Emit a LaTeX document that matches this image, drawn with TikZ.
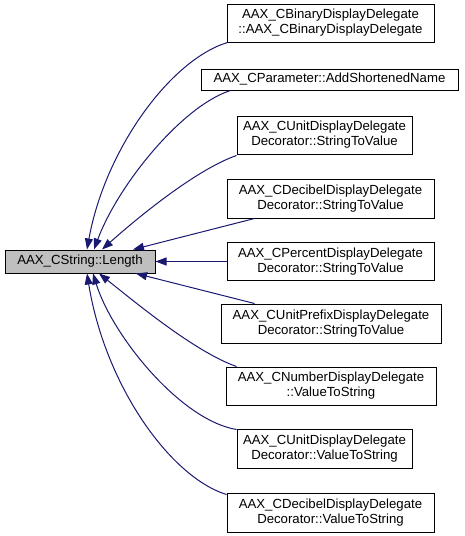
\documentclass[tikz,border=0pt]{standalone}
\usepackage{fontspec}
\setmainfont{Liberation Sans}
\usetikzlibrary{arrows.meta}
\definecolor{edgeblue}{HTML}{191970}
\definecolor{hlgrey}{HTML}{BFBFBF}
\begin{document}
\begin{tikzpicture}[x=1pt,y=-1pt,
  box/.style={draw=black,line width=1pt,inner sep=0pt,align=center,
    font=\fontsize{13.2}{15}\selectfont},
  edge/.style={draw=edgeblue,line width=1pt,-{Triangle[length=11pt,width=8pt]}}]
\useasboundingbox (0,0) rectangle (464,536);
\node[box,fill=hlgrey,minimum width=150pt,minimum height=23pt] (L) at (80,261.5) {AAX\_CString::Length};
\node[box,minimum width=207pt,minimum height=38pt] (n1) at (330.5,23) {AAX\_CBinaryDisplayDelegate\\::AAX\_CBinaryDisplayDelegate};
\node[box,minimum width=257pt,minimum height=21pt] (n2) at (329.5,79.5) {AAX\_CParameter::AddShortenedName};
\node[box,minimum width=175pt,minimum height=38pt] (n3) at (324.5,135) {AAX\_CUnitDisplayDelegate\\Decorator::StringToValue};
\node[box,minimum width=207pt,minimum height=39pt] (n4) at (330.5,198.5) {AAX\_CDecibelDisplayDelegate\\Decorator::StringToValue};
\node[box,minimum width=207pt,minimum height=38pt] (n5) at (330.5,261.5) {AAX\_CPercentDisplayDelegate\\Decorator::StringToValue};
\node[box,minimum width=220pt,minimum height=39pt] (n6) at (331,323.5) {AAX\_CUnitPrefixDisplayDelegate\\Decorator::StringToValue};
\node[box,minimum width=210pt,minimum height=38pt] (n7) at (331,386) {AAX\_CNumberDisplayDelegate\\::ValueToString};
\node[box,minimum width=175pt,minimum height=39pt] (n8) at (324.5,448.5) {AAX\_CUnitDisplayDelegate\\Decorator::ValueToString};
\node[box,minimum width=207pt,minimum height=39pt] (n9) at (330.5,512.5) {AAX\_CDecibelDisplayDelegate\\Decorator::ValueToString};
\coordinate (t1) at ([xshift=7pt]L.north);
\coordinate (t2) at ([xshift=14pt]L.north);
\coordinate (t3) at ([xshift=22pt]L.north);
\coordinate (t4) at ([xshift=53pt]L.north);
\coordinate (b4) at ([xshift=56pt]L.south);
\coordinate (b3) at ([xshift=19pt]L.south);
\coordinate (b2) at ([xshift=13pt]L.south);
\coordinate (b1) at ([xshift=7pt]L.south);
\draw[edge] ([xshift=1pt]n1.south west) .. controls (170,60) and (105,150) .. (t1);
\draw[edge] ([xshift=30pt]n2.south west) .. controls (182,106) and (118,185) .. (t2);
\draw[edge] ([yshift=-1pt]n3.south west) .. controls (195,170) and (135,220) .. (t3);
\draw[edge] ([xshift=28pt]n4.south west) -- (t4);
\draw[edge] (n5.west) -- (L.east);
\draw[edge] ([xshift=34pt]n6.north west) -- (b4);
\draw[edge] ([xshift=11pt]n7.north west) .. controls (195,352) and (135,302) .. (b3);
\draw[edge] ([yshift=-1pt]n8.north west) .. controls (180,420) and (112,335) .. (b2);
\draw[edge] ([yshift=-2pt]n9.north west) .. controls (170,477) and (105,385) .. (b1);
\end{tikzpicture}
\end{document}
